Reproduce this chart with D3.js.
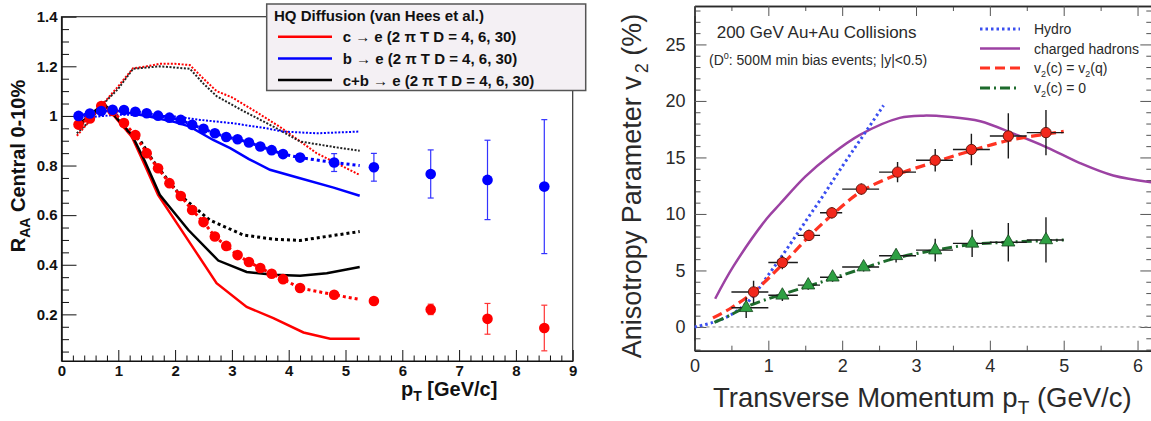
<!DOCTYPE html>
<html>
<head>
<meta charset="utf-8">
<script src="https://cdn.jsdelivr.net/npm/d3@7"></script>
<style>
body { margin: 0; background: #fff; }
svg { display: block; }
text { font-family: "Liberation Sans", Arial, Helvetica, sans-serif; }
</style>
</head>
<body>
<div id="wrapper"></div>
<script>
/*global d3*/

// ---------- left panel: R_AA data ----------
const ptData = [0.3, 0.5, 0.7, 0.9, 1.1, 1.3, 1.5, 1.7, 1.9, 2.1, 2.3, 2.5, 2.7, 2.9, 3.1, 3.3, 3.5, 3.7, 3.9, 4.2, 4.8, 5.5, 6.5, 7.5, 8.5]
const raaC = [0.965, 0.99, 1.04, 1.02, 0.971, 0.923, 0.85, 0.789, 0.729, 0.677, 0.621, 0.572, 0.514, 0.476, 0.439, 0.411, 0.387, 0.364, 0.342, 0.306, 0.279, 0.254, 0.220, 0.182, 0.145]
const errC = [0, 0, 0, 0, 0, 0, 0, 0, 0, 0, 0, 0, 0, 0, 0, 0, 0, 0, 0, 0.008, 0.01, 0.0125, 0.021, 0.062, 0.092]
const raaB = [1.0, 1.01, 1.02, 1.025, 1.024, 1.017, 1.011, 1.001, 0.993, 0.984, 0.964, 0.948, 0.930, 0.915, 0.906, 0.893, 0.877, 0.862, 0.846, 0.832, 0.812, 0.793, 0.766, 0.742, 0.715]
const errB = [0, 0, 0, 0, 0, 0, 0, 0, 0, 0, 0, 0, 0, 0, 0, 0, 0, 0, 0, 0.015, 0.036, 0.056, 0.097, 0.16, 0.27]

// model curves (2 pi T D = 4 solid, 6 thick dotted, 30 thin dotted)
const modelEnd = 5.25
const cMidEnd = 0.26
const bMidEnd = 0.80

const cSolidPt = [0.27, 0.5, 0.74, 1.0, 1.24, 1.47, 1.7, 2.03, 2.38, 2.73, 3.26, 3.73, 4.26, 4.73, 5.25]
const cSolid = [0.955, 1.0, 1.05, 0.98, 0.915, 0.80, 0.682, 0.568, 0.447, 0.326, 0.230, 0.185, 0.127, 0.102, 0.102]
const cbSolidPt = [0.27, 0.5, 0.74, 1.0, 1.24, 1.47, 1.73, 1.85, 2.23, 2.76, 3.26, 3.73, 4.2, 4.67, 5.25]
const cbSolid = [0.964, 1.0, 1.051, 0.984, 0.923, 0.816, 0.682, 0.648, 0.541, 0.417, 0.371, 0.360, 0.356, 0.366, 0.391]
const bSolidPt = [0.27, 0.5, 0.75, 1.0, 1.5, 2.0, 2.26, 2.67, 2.97, 3.3, 3.67, 4.2, 4.79, 5.25]
const bSolid = [1.0, 1.01, 1.02, 1.02, 1.0, 0.975, 0.957, 0.903, 0.870, 0.826, 0.783, 0.749, 0.711, 0.678]

const cbMidPt = [0.27, 0.5, 0.74, 1.0, 1.15, 1.38, 1.62, 1.73, 2.09, 2.61, 3.2, 3.73, 4.2, 4.67, 5.25]
const cbMid = [0.95, 1.0, 1.05, 0.99, 0.944, 0.903, 0.816, 0.783, 0.68, 0.58, 0.52, 0.503, 0.498, 0.514, 0.534]

const cThinPt = [0.27, 0.5, 0.7, 1.0, 1.26, 1.5, 1.73, 2.0, 2.26, 2.5, 2.73, 3.0, 3.4, 3.85, 4.49, 5.25]
const cThin = [0.92, 0.98, 1.04, 1.12, 1.192, 1.2, 1.21, 1.21, 1.205, 1.15, 1.10, 1.075, 1.02, 0.955, 0.85, 0.762]
const cbThinPt = [0.27, 0.5, 0.7, 1.0, 1.26, 1.5, 1.73, 2.0, 2.26, 2.5, 2.73, 3.2, 3.73, 4.2, 4.79, 5.25]
const cbThin = [0.93, 0.98, 1.04, 1.11, 1.19, 1.195, 1.2, 1.195, 1.19, 1.13, 1.08, 1.02, 0.957, 0.897, 0.875, 0.86]
const bThinPt = [0.27, 0.5, 0.75, 1.0, 1.5, 2.03, 2.44, 3.03, 3.61, 3.9, 4.5, 5.25]
const bThin = [1.0, 0.995, 1.0, 1.005, 1.003, 0.997, 0.984, 0.970, 0.950, 0.937, 0.930, 0.937]

const leftYTicks = [0.2, 0.4, 0.6, 0.8, 1.0, 1.2, 1.4]
const leftXTicks = [0, 1, 2, 3, 4, 5, 6, 7, 8, 9]
const leftLegend = ["c \u2192 e (2 \u03c0 T D = 4, 6, 30)", "b \u2192 e (2 \u03c0 T D = 4, 6, 30)", "c+b \u2192 e (2 \u03c0 T D = 4, 6, 30)"]

// ---------- right panel: v2 data ----------
const hydroPt = [0, 0.25, 0.5, 0.75, 1.0, 1.25, 1.5, 1.75, 2.0, 2.25, 2.56]
const hydroV2 = [0, 0.4, 1.1, 2.4, 4.6, 6.9, 9.3, 11.7, 14.2, 16.6, 19.6]
const hadronPt = [0.28, 0.53, 0.98, 1.16, 1.5, 1.84, 2.24, 2.78, 3.1, 3.43, 3.87, 4.32, 4.77, 5.22, 5.67, 6.2]
const hadronV2 = [2.5, 5.4, 9.6, 10.9, 13.3, 15.2, 17.0, 18.5, 18.7, 18.6, 18.2, 17.1, 15.9, 14.5, 13.4, 12.8]
const quarkPt = [0.25, 0.5, 0.8, 1.2, 1.55, 1.86, 2.26, 2.75, 3.26, 3.75, 4.25, 5.0]
const quarkV2 = [0.8, 1.7, 3.1, 5.6, 8.0, 9.9, 12.0, 13.5, 14.6, 15.6, 16.5, 17.3]
const zeroPt = [0.27, 0.5, 0.71, 1.0, 1.19, 1.54, 1.87, 2.29, 2.73, 3.26, 3.76, 4.25, 5.0]
const zeroV2 = [0.4, 1.1, 1.8, 2.5, 2.9, 3.6, 4.3, 5.2, 6.1, 6.8, 7.3, 7.5, 7.7]

const binLo = [0.5, 1.0, 1.4, 1.7, 2.0, 2.5, 3.0, 3.5, 4.0, 4.5]
const binHi = [1.0, 1.4, 1.7, 2.0, 2.5, 3.0, 3.5, 4.0, 4.5, 5.0]
const redPt = [0.80, 1.19, 1.55, 1.86, 2.26, 2.75, 3.26, 3.75, 4.25, 4.76]
const redV2 = [3.1, 5.7, 8.1, 10.1, 12.2, 13.7, 14.75, 15.7, 16.9, 17.2]
const redErr = [1.0, 0.6, 0.5, 0.5, 0.5, 0.9, 1.0, 1.4, 2.0, 2.0]
const greenPt = [0.70, 1.19, 1.54, 1.87, 2.29, 2.73, 3.26, 3.76, 4.25, 4.76]
const greenV2 = [1.7, 2.8, 3.7, 4.4, 5.3, 6.3, 6.8, 7.4, 7.5, 7.7]
const greenErr = [0.9, 0.5, 0.4, 0.4, 0.4, 0.6, 1.0, 1.2, 1.7, 2.0]

const rightYTicks = [0, 5, 10, 15, 20, 25]
const rightXTicks = [0, 1, 2, 3, 4, 5, 6]
const rightLegend = ["Hydro", "charged hadrons", "v2(c) = v2(q)", "v2(c) = 0"]

function drawChart() {

    const svg = d3.select("#wrapper")
        .append("svg")
        .attr("width", 1151)
        .attr("height", 421)

    // =================== LEFT ===================
    const xL = d3.scaleLinear().domain([0, 9]).range([61.5, 572.7])
    const yL = d3.scaleLinear().domain([0.012, 1.4]).range([361, 16.7])
    const left = svg.append("g")

    const zip = (xs, ys) => xs.map((x, i) => [x, ys[i]])
    const lineL = d3.line().x(d => xL(d[0])).y(d => yL(d[1]))

    // frame
    left.append("rect")
        .attr("x", xL(0)).attr("y", yL(1.4))
        .attr("width", xL(9) - xL(0)).attr("height", yL(0.012) - yL(1.4))
        .attr("fill", "none").attr("stroke", "#333").attr("stroke-width", 1.2)

    // axes (ticks inside, ROOT style)
    const yMinor = d3.range(0.05, 1.4, 0.05).filter(v => Math.abs(v * 5 - Math.round(v * 5)) > 0.01)
    const xMinor = d3.range(0.2, 9, 0.2).filter(v => Math.abs(v - Math.round(v)) > 0.01)

    const styleAxis = g => {
        g.select(".domain").attr("stroke", "#111")
        g.selectAll(".tick line").attr("stroke", "#111")
        g.selectAll("text").attr("fill", "#111").style("font-size", "15px").style("font-weight", "bold")
    }

    left.append("g").attr("transform", `translate(${xL(0)},0)`)
        .call(d3.axisLeft(yL).tickValues(yMinor).tickSize(-7.5).tickSizeOuter(0).tickFormat(""))
        .call(styleAxis)
    left.append("g").attr("transform", `translate(${xL(0)},0)`)
        .call(d3.axisLeft(yL).tickValues(leftYTicks).tickSize(-15).tickSizeOuter(0).tickPadding(4)
            .tickFormat(d => d === 1 ? "1" : d3.format(".1f")(d)))
        .call(styleAxis)
    left.append("g").attr("transform", `translate(0,${yL(0.012)})`)
        .call(d3.axisBottom(xL).tickValues(xMinor).tickSize(-5.5).tickSizeOuter(0).tickFormat(""))
        .call(styleAxis)
    left.append("g").attr("transform", `translate(0,${yL(0.012)})`)
        .call(d3.axisBottom(xL).tickValues(leftXTicks).tickSize(-11).tickSizeOuter(0).tickPadding(4))
        .call(styleAxis)

    // titles
    const yt = left.append("text")
        .attr("transform", "translate(25,166) rotate(-90)")
        .attr("text-anchor", "middle")
        .style("font-size", "20px").style("font-weight", "bold").attr("fill", "#111")
    yt.append("tspan").text("R")
    yt.append("tspan").attr("dy", 5).style("font-size", "14px").text("AA")
    yt.append("tspan").attr("dy", -5).text(" Central 0-10%")

    const xt = left.append("text")
        .attr("x", 401).attr("y", 396)
        .style("font-size", "20px").style("font-weight", "bold").attr("fill", "#111")
    xt.append("tspan").text("p")
    xt.append("tspan").attr("dy", 5).style("font-size", "14px").text("T")
    xt.append("tspan").attr("dy", -5).text(" [GeV/c]")

    // model curves
    const curves = [
        [zip(cThinPt, cThin), "red", 2, "2,1.6"],
        [zip(cbThinPt, cbThin), "#222", 2, "2,1.6"],
        [zip(bThinPt, bThin), "blue", 2, "2,1.6"],
        [zip(cSolidPt, cSolid), "red", 2.5, null],
        [zip(bSolidPt, bSolid), "blue", 2.5, null],
        [zip(cbSolidPt, cbSolid), "black", 2.5, null],
        [zip(cbMidPt, cbMid), "black", 3, "3,3"],
    ]
    // thick dotted curves through the marker points
    const cMid = zip(ptData, raaC).filter(d => d[0] <= 4.8).concat([[modelEnd, cMidEnd]])
    const bMid = zip(ptData, raaB).filter(d => d[0] <= 4.8).concat([[modelEnd, bMidEnd]])
    curves.push([cMid, "red", 3, "3,3"])
    curves.push([bMid, "blue", 3, "3,3"])

    curves.forEach(([data, color, w, dash]) => {
        left.append("path")
            .attr("d", lineL(data))
            .attr("fill", "none")
            .attr("stroke", color)
            .attr("stroke-width", w)
            .attr("stroke-dasharray", dash)
    })

    // points with error bars
    const drawPoints = (ys, errs, color, barColor) => {
        const g = left.append("g")
        ptData.forEach((x, i) => {
            if (errs[i] > 0) {
                const cx = xL(x), y0 = yL(ys[i] - errs[i]), y1 = yL(ys[i] + errs[i])
                g.append("line").attr("x1", cx).attr("x2", cx).attr("y1", y0).attr("y2", y1)
                    .attr("stroke", barColor).attr("stroke-width", 1.2)
                ;[y0, y1].forEach(yy => g.append("line")
                    .attr("x1", cx - 3).attr("x2", cx + 3).attr("y1", yy).attr("y2", yy)
                    .attr("stroke", barColor).attr("stroke-width", 1.2))
            }
        })
        g.selectAll("circle").data(ptData).join("circle")
            .attr("cx", d => xL(d))
            .attr("cy", (d, i) => yL(ys[i]))
            .attr("r", 5.3)
            .attr("fill", color)
    }
    drawPoints(raaC, errC, "red", "#f33")
    drawPoints(raaB, errB, "blue", "#33f")

    // legend
    const leg = left.append("g")
    leg.append("rect")
        .attr("x", 266.7).attr("y", 4).attr("width", 319).attr("height", 86.5)
        .attr("fill", "#f4f0f4").attr("stroke", "#555").attr("stroke-width", 1.5)
    leg.append("text").attr("x", 274).attr("y", 21)
        .style("font-size", "15px").style("font-weight", "bold").attr("fill", "#111")
        .text("HQ Diffusion (van Hees et al.)")
    const legColors = ["red", "blue", "black"]
    leftLegend.forEach((label, i) => {
        const ly = 36.7 + i * 21.7
        leg.append("line").attr("x1", 278).attr("x2", 332).attr("y1", ly).attr("y2", ly)
            .attr("stroke", legColors[i]).attr("stroke-width", 2.5)
        leg.append("text").attr("x", 342.7).attr("y", ly + 5.5)
            .style("font-size", "15px").style("font-weight", "bold").attr("fill", "#111")
            .text(label)
    })

    // =================== RIGHT ===================
    const xR = d3.scaleLinear().domain([0, 6.2]).range([694.5, 1152.3])
    const yR = d3.scaleLinear().domain([-2.1, 28.4]).range([350.7, 6])
    const right = svg.append("g")
    const ink = "#2a2a2a"

    svg.append("clipPath").attr("id", "clipR")
        .append("rect").attr("x", 694.5).attr("y", 6).attr("width", 460).attr("height", 344.7)

    const styleR = g => {
        g.select(".domain").attr("stroke", ink).attr("stroke-width", 1.5)
        g.selectAll(".tick line").attr("stroke", "#555")
        g.selectAll("text").attr("fill", ink).style("font-size", "18px")
    }
    const yMinorR = d3.range(-2, 29, 1).filter(v => v % 5 !== 0)
    const xMinorR = d3.range(0.5, 6.2, 1)

    // left / right y axes
    right.append("g").attr("transform", `translate(${xR(0)},0)`)
        .call(d3.axisLeft(yR).tickValues(yMinorR).tickSize(-6).tickSizeOuter(0).tickFormat(""))
        .call(styleR)
    right.append("g").attr("transform", `translate(${xR(0)},0)`)
        .call(d3.axisLeft(yR).tickValues(rightYTicks).tickSize(-12).tickSizeOuter(0).tickPadding(9))
        .call(styleR)
    right.append("g").attr("transform", `translate(${xR(6.2)},0)`)
        .call(d3.axisRight(yR).tickValues(yMinorR).tickSize(-6).tickSizeOuter(0).tickFormat(""))
        .call(styleR)
    right.append("g").attr("transform", `translate(${xR(6.2)},0)`)
        .call(d3.axisRight(yR).tickValues(rightYTicks).tickSize(-12).tickSizeOuter(0).tickFormat(""))
        .call(styleR)
    // bottom / top x axes
    right.append("g").attr("transform", `translate(0,${yR(-2.1)})`)
        .call(d3.axisBottom(xR).tickValues(xMinorR).tickSize(-5).tickSizeOuter(0).tickFormat(""))
        .call(styleR)
    right.append("g").attr("transform", `translate(0,${yR(-2.1)})`)
        .call(d3.axisBottom(xR).tickValues(rightXTicks).tickSize(-10).tickSizeOuter(0).tickPadding(9)
            .tickFormat(d3.format("d")))
        .call(styleR)
    right.append("g").attr("transform", `translate(0,${yR(28.4)})`)
        .call(d3.axisTop(xR).tickValues(xMinorR).tickSize(-5).tickSizeOuter(0).tickFormat(""))
        .call(styleR)
    right.append("g").attr("transform", `translate(0,${yR(28.4)})`)
        .call(d3.axisTop(xR).tickValues(rightXTicks).tickSize(-10).tickSizeOuter(0).tickFormat(""))
        .call(styleR)

    // zero line
    right.append("line")
        .attr("x1", xR(0)).attr("x2", xR(6.2)).attr("y1", yR(0)).attr("y2", yR(0))
        .attr("stroke", "#888").attr("stroke-width", 1).attr("stroke-dasharray", "3,3")

    // titles
    const ytR = right.append("text")
        .attr("transform", "translate(641,186) rotate(-90)")
        .attr("text-anchor", "middle")
        .style("font-size", "27px").attr("fill", ink)
    ytR.append("tspan").text("Anisotropy Parameter v")
    ytR.append("tspan").attr("dy", 7).attr("dx", 3).style("font-size", "18px").text("2")
    ytR.append("tspan").attr("dy", -7).text(" (%)")

    const xtR = right.append("text")
        .attr("x", 713).attr("y", 407)
        .style("font-size", "27.5px").attr("fill", ink)
    xtR.append("tspan").text("Transverse Momentum p")
    xtR.append("tspan").attr("dy", 7).style("font-size", "19px").text("T")
    xtR.append("tspan").attr("dy", -7).text(" (GeV/c)")

    right.append("text").attr("x", 716.7).attr("y", 38)
        .style("font-size", "17px").attr("fill", ink)
        .text("200 GeV Au+Au Collisions")
    const sub = right.append("text").attr("x", 709).attr("y", 65)
        .style("font-size", "14px").attr("fill", ink)
    sub.append("tspan").text("(D")
    sub.append("tspan").attr("dy", -6).style("font-size", "9px").text("0")
    sub.append("tspan").attr("dy", 6).text(": 500M min bias events; |y|<0.5)")

    // curves
    const plot = right.append("g").attr("clip-path", "url(#clipR)")
    const lineR = d3.line().x(d => xR(d[0])).y(d => yR(d[1])).curve(d3.curveCatmullRom.alpha(0.5))

    const rStyles = {
        hydro: { color: "#3b4ff0", w: 3, dash: "2.5,3" },
        hadron: { color: "#9c42a3", w: 2.5, dash: null },
        quark: { color: "#ff3322", w: 3.2, dash: "10,5" },
        zero: { color: "#1d6b2c", w: 3, dash: "10,4,2,4" },
    }
    const rCurves = [
        [zip(hadronPt, hadronV2), rStyles.hadron],
        [zip(hydroPt, hydroV2), rStyles.hydro],
        [zip(zeroPt, zeroV2), rStyles.zero],
        [zip(quarkPt, quarkV2), rStyles.quark],
    ]
    rCurves.forEach(([data, s]) => {
        plot.append("path")
            .attr("d", lineR(data))
            .attr("fill", "none")
            .attr("stroke", s.color)
            .attr("stroke-width", s.w)
            .attr("stroke-dasharray", s.dash)
    })

    // data points with error bars
    const drawErr = (xs, ys, errs) => {
        xs.forEach((x, i) => {
            plot.append("line")
                .attr("x1", xR(binLo[i])).attr("x2", xR(binHi[i]))
                .attr("y1", yR(ys[i])).attr("y2", yR(ys[i]))
                .attr("stroke", "#1a1a1a").attr("stroke-width", 1.4)
            plot.append("line")
                .attr("x1", xR(x)).attr("x2", xR(x))
                .attr("y1", yR(ys[i] - errs[i])).attr("y2", yR(ys[i] + errs[i]))
                .attr("stroke", "#1a1a1a").attr("stroke-width", 1.4)
        })
    }
    drawErr(greenPt, greenV2, greenErr)
    drawErr(redPt, redV2, redErr)

    plot.selectAll(".tri").data(greenPt).join("path")
        .attr("class", "tri")
        .attr("transform", (d, i) => `translate(${xR(d)},${yR(greenV2[i])})`)
        .attr("d", d3.symbol(d3.symbolTriangle).size(75))
        .attr("fill", "#2ea043").attr("stroke", "#14451c").attr("stroke-width", 0.8)
    plot.selectAll(".dot").data(redPt).join("circle")
        .attr("class", "dot")
        .attr("cx", d => xR(d))
        .attr("cy", (d, i) => yR(redV2[i]))
        .attr("r", 5.2)
        .attr("fill", "#f2281c").attr("stroke", "#5a1208").attr("stroke-width", 0.9)

    // legend
    const legStyles = [rStyles.hydro, rStyles.hadron, rStyles.quark, rStyles.zero]
    const legY = [29, 48.5, 68, 88]
    rightLegend.forEach((label, i) => {
        const s = legStyles[i]
        right.append("line")
            .attr("x1", 980).attr("x2", 1020).attr("y1", legY[i]).attr("y2", legY[i])
            .attr("stroke", s.color).attr("stroke-width", s.w).attr("stroke-dasharray", s.dash)
        const t = right.append("text").attr("x", 1034).attr("y", legY[i] + 5)
            .style("font-size", "14px").attr("fill", ink)
        if (label.startsWith("v2")) {
            const parts = label.split("v2")
            parts.forEach((p, k) => {
                if (k > 0) {
                    t.append("tspan").text("v")
                    t.append("tspan").attr("dy", 4).style("font-size", "9px").text("2")
                    t.append("tspan").attr("dy", -4).text(p)
                }
            })
        } else {
            t.text(label)
        }
    })
}

drawChart()
</script>
</body>
</html>
